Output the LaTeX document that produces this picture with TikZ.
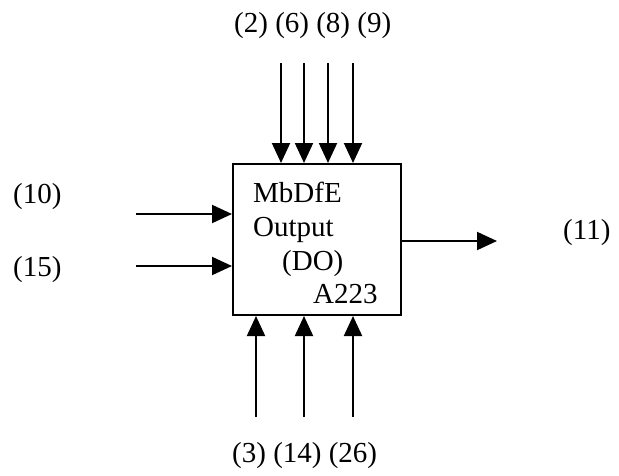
\documentclass[tikz,border=0pt]{standalone}
\usepackage{fontspec}
\setmainfont{Liberation Serif}
\usetikzlibrary{arrows.meta}
\begin{document}
\begin{tikzpicture}[x=1pt,y=-1pt,
  lbl/.style={anchor=base west,inner sep=0pt,font=\fontsize{29}{34}\selectfont},
  flow/.style={line width=2pt,-{Triangle[length=20pt,width=18pt]}},
  blk/.style={draw,line width=2pt,minimum width=168pt,minimum height=151pt,inner sep=0pt}]
\useasboundingbox (0,0) rectangle (619,475);
\node[blk] (box) at (317,239.5) {};
\node[lbl] (l1) at (253,202) {MbDfE};
\node[lbl] (l2) at (253,236) {Output};
\node[lbl] (l3) at (282,270) {(DO)};
\node[lbl] (l4) at (313,303) {A223};
% labels
\node[lbl] (top) at (234,32) {(2) (6) (8) (9)};
\node[lbl] (in1) at (13,203) {(10)};
\node[lbl] (in2) at (13,276) {(15)};
\node[lbl] (out) at (563,239) {(11)};
\node[lbl] (bot) at (232,462) {(3) (14) (26)};
% top arrows
\coordinate (t1) at (281,63);
\coordinate (t2) at (304,63);
\coordinate (t3) at (328,63);
\coordinate (t4) at (353,63);
\foreach \c in {t1,t2,t3,t4} \draw[flow] (\c) -- (\c |- box.north);
% bottom arrows
\coordinate (b1) at (256,417);
\coordinate (b2) at (304,417);
\coordinate (b3) at (353,417);
\foreach \c in {b1,b2,b3} \draw[flow] (\c) -- (\c |- box.south);
% left arrows
\coordinate (i1) at (136,214);
\coordinate (i2) at (136,266);
\foreach \c in {i1,i2} \draw[flow] (\c) -- (\c -| box.west);
% right arrow
\coordinate (o1) at (497,241);
\draw[flow] (o1 -| box.east) -- (o1);
\end{tikzpicture}
\end{document}
